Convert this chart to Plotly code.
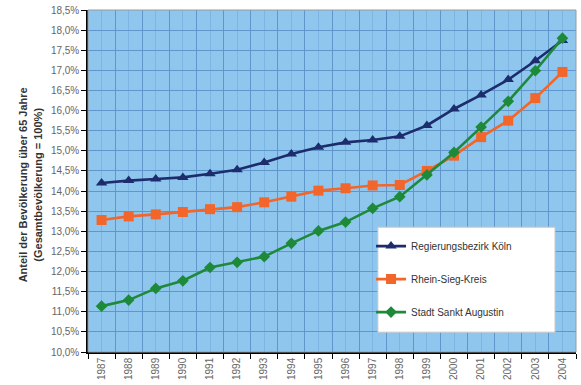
import plotly.graph_objects as go

# Jahre (Kategorien der x-Achse)
jahre = ["1987", "1988", "1989", "1990", "1991", "1992", "1993", "1994", "1995",
         "1996", "1997", "1998", "1999", "2000", "2001", "2002", "2003", "2004"]

# Anteil der Bevölkerung über 65 Jahre in %
regbez_koeln = [14.20, 14.26, 14.30, 14.34, 14.43, 14.53, 14.71, 14.92, 15.09,
                15.21, 15.27, 15.36, 15.63, 16.04, 16.39, 16.77, 17.24, 17.74]
rhein_sieg = [13.28, 13.37, 13.42, 13.48, 13.55, 13.60, 13.72, 13.86, 14.01,
              14.07, 14.14, 14.15, 14.50, 14.88, 15.34, 15.75, 16.31, 16.96]
sankt_augustin = [11.14, 11.29, 11.58, 11.77, 12.10, 12.23, 12.37, 12.70, 13.01,
                  13.23, 13.57, 13.86, 14.40, 14.96, 15.59, 16.23, 16.99, 17.80]

y_ticks = [10.0 + 0.5 * i for i in range(18)]
y_ticktext = [f"{v:.1f}%".replace(".", ",") for v in y_ticks]

x_pos = list(range(len(jahre)))
grenzen = [i - 0.5 for i in range(len(jahre) + 1)]

serien = [
    ("Regierungsbezirk Köln", regbez_koeln, "#1c2c6c", "triangle-up", 10),
    ("Rhein-Sieg-Kreis", rhein_sieg, "#f2662b", "square", 10),
    ("Stadt Sankt Augustin", sankt_augustin, "#1d8a3a", "diamond", 9),
]

fig = go.Figure()
for i, (name, werte, farbe, symbol, groesse) in enumerate(serien):
    fig.add_trace(go.Scatter(
        x=x_pos, y=werte, name=name, mode="lines+markers",
        legendgroup=f"g{i}",
        line=dict(color=farbe, width=2.6),
        marker=dict(symbol=symbol, size=groesse, color=farbe),
    ))

font_family = "Liberation Sans, Arial, sans-serif"

fig.update_layout(
    width=581, height=385,
    margin=dict(l=88, r=5, t=10, b=33),
    paper_bgcolor="white",
    plot_bgcolor="#8fc6ee",
    font=dict(family=font_family, size=10, color="#555555"),
    showlegend=True,
    legend=dict(
        x=0.58, y=0.352, xanchor="left", yanchor="top",
        bgcolor="rgba(0,0,0,0)", borderwidth=0,
        font=dict(size=10, color="#333333"),
        tracegroupgap=14,
    ),
    shapes=[
        # Rahmen der Zeichenfläche (oben/rechts grau)
        dict(type="rect", xref="paper", yref="paper", x0=0, x1=1, y0=0, y1=1,
             line=dict(color="#9a9a9a", width=1), fillcolor="rgba(0,0,0,0)",
             layer="above"),
        # Legendenkasten
        dict(type="rect", xref="paper", yref="paper",
             x0=0.594, x1=0.957, y0=0.058, y1=0.365,
             line=dict(color="#c8c8c8", width=1), fillcolor="white",
             layer="above"),
    ],
    annotations=[
        dict(
            text="<b>Anteil der Bevölkerung über 65 Jahre<br>(Gesamtbevölkerung = 100%)</b>",
            xref="paper", yref="paper", x=-0.117, y=0.49,
            xanchor="center", yanchor="middle", textangle=-90,
            showarrow=False,
            font=dict(size=11, color="#333333", family=font_family),
        ),
    ],
)

fig.update_xaxes(
    type="linear",
    range=[-0.5, len(jahre) - 0.5],
    tickmode="array", tickvals=x_pos, ticktext=jahre,
    tickangle=-90,
    ticks="",
    showgrid=True, gridcolor="#7db4e2", gridwidth=1,
    showline=True, linecolor="black", linewidth=1.5,
    zeroline=False,
    minor=dict(tickmode="array", tickvals=grenzen, ticks="outside",
               ticklen=5, tickcolor="black", tickwidth=1,
               showgrid=True, gridcolor="#5f97cc", gridwidth=1),
    tickfont=dict(size=10, color="#666666"),
)

fig.update_yaxes(
    range=[10.0, 18.5],
    tickmode="array", tickvals=y_ticks, ticktext=y_ticktext,
    ticks="outside", ticklen=5, tickcolor="black", tickwidth=1,
    showgrid=True, gridcolor="#5f97cc", gridwidth=1,
    showline=True, linecolor="black", linewidth=1.5,
    zeroline=False,
    tickfont=dict(size=10, color="#666666"),
)

fig.write_html("out.html")
